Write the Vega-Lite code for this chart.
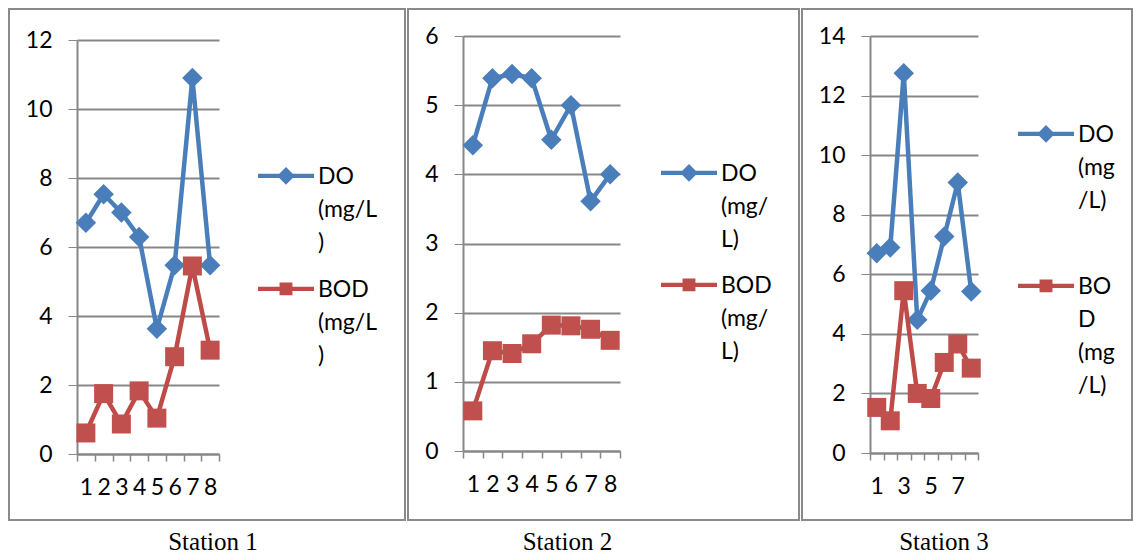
{
  "$schema": "https://vega.github.io/schema/vega-lite/v6.json",
  "padding": {"left": 8, "top": 8, "right": 0, "bottom": 0},
  "spacing": 1,
  "datasets": {
    "st1": [
      {"i": 1, "series": "DO (mg/L)", "v": 6.7}, {"i": 2, "series": "DO (mg/L)", "v": 7.53}, {"i": 3, "series": "DO (mg/L)", "v": 7.0}, {"i": 4, "series": "DO (mg/L)", "v": 6.29},
      {"i": 5, "series": "DO (mg/L)", "v": 3.63}, {"i": 6, "series": "DO (mg/L)", "v": 5.47}, {"i": 7, "series": "DO (mg/L)", "v": 10.9}, {"i": 8, "series": "DO (mg/L)", "v": 5.47},
      {"i": 1, "series": "BOD (mg/L)", "v": 0.61}, {"i": 2, "series": "BOD (mg/L)", "v": 1.75}, {"i": 3, "series": "BOD (mg/L)", "v": 0.87}, {"i": 4, "series": "BOD (mg/L)", "v": 1.83},
      {"i": 5, "series": "BOD (mg/L)", "v": 1.04}, {"i": 6, "series": "BOD (mg/L)", "v": 2.82}, {"i": 7, "series": "BOD (mg/L)", "v": 5.45}, {"i": 8, "series": "BOD (mg/L)", "v": 3.01}
    ],
    "st2": [
      {"i": 1, "series": "DO (mg/L)", "v": 4.42}, {"i": 2, "series": "DO (mg/L)", "v": 5.39}, {"i": 3, "series": "DO (mg/L)", "v": 5.45}, {"i": 4, "series": "DO (mg/L)", "v": 5.39},
      {"i": 5, "series": "DO (mg/L)", "v": 4.5}, {"i": 6, "series": "DO (mg/L)", "v": 5.0}, {"i": 7, "series": "DO (mg/L)", "v": 3.61}, {"i": 8, "series": "DO (mg/L)", "v": 4.0},
      {"i": 1, "series": "BOD (mg/L)", "v": 0.58}, {"i": 2, "series": "BOD (mg/L)", "v": 1.45}, {"i": 3, "series": "BOD (mg/L)", "v": 1.41}, {"i": 4, "series": "BOD (mg/L)", "v": 1.55},
      {"i": 5, "series": "BOD (mg/L)", "v": 1.82}, {"i": 6, "series": "BOD (mg/L)", "v": 1.81}, {"i": 7, "series": "BOD (mg/L)", "v": 1.76}, {"i": 8, "series": "BOD (mg/L)", "v": 1.6}
    ],
    "st3": [
      {"i": 1, "series": "DO (mg/L)", "v": 6.71}, {"i": 2, "series": "DO (mg/L)", "v": 6.9}, {"i": 3, "series": "DO (mg/L)", "v": 12.75}, {"i": 4, "series": "DO (mg/L)", "v": 4.47},
      {"i": 5, "series": "DO (mg/L)", "v": 5.45}, {"i": 6, "series": "DO (mg/L)", "v": 7.27}, {"i": 7, "series": "DO (mg/L)", "v": 9.08}, {"i": 8, "series": "DO (mg/L)", "v": 5.42},
      {"i": 1, "series": "BOD (mg/L)", "v": 1.53}, {"i": 2, "series": "BOD (mg/L)", "v": 1.08}, {"i": 3, "series": "BOD (mg/L)", "v": 5.45}, {"i": 4, "series": "BOD (mg/L)", "v": 2.0},
      {"i": 5, "series": "BOD (mg/L)", "v": 1.83}, {"i": 6, "series": "BOD (mg/L)", "v": 3.04}, {"i": 7, "series": "BOD (mg/L)", "v": 3.66}, {"i": 8, "series": "BOD (mg/L)", "v": 2.85}
    ]
  },
  "resolve": {
    "scale": {"x": "independent", "y": "independent", "color": "independent", "shape": "independent"},
    "legend": {"color": "independent", "shape": "independent"}
  },
  "hconcat": [
    {
      "width": 396, "height": 511,
      "data": {"name": "st1"},
      "title": {"text": "Station 1", "orient": "bottom", "dx": 6},
      "encoding": {
        "x": {"field": "i", "type": "ordinal", "scale": {"range": [68, 210], "paddingInner": 0, "paddingOuter": 0},
              "axis": {"title": null, "orient": "bottom", "offset": -66, "labelAngle": 0, "tickBand": "extent", "tickSize": 7, "tickWidth": 1.5, "labelPadding": 15, "grid": false}},
        "y": {"field": "v", "type": "quantitative", "scale": {"domain": [0, 12], "range": [445, 31], "nice": false},
              "axis": {"title": null, "offset": -68, "values": [0, 2, 4, 6, 8, 10, 12], "tickSize": 9, "labelPadding": 16, "grid": true}}
      },
      "layer": [
        {"transform": [{"filter": "datum.series == 'DO (mg/L)'"}], "mark": {"type": "line", "color": "#4A7EBB", "strokeWidth": 4.5, "strokeJoin": "round", "strokeCap": "round"}},
        {"transform": [{"filter": "datum.series == 'DO (mg/L)'"}], "mark": {"type": "point", "shape": "diamond", "filled": true, "color": "#4A7EBB", "size": 420, "opacity": 1}},
        {"transform": [{"filter": "datum.series == 'BOD (mg/L)'"}], "mark": {"type": "line", "color": "#BE4B48", "strokeWidth": 4.5, "strokeJoin": "round", "strokeCap": "round"}},
        {"transform": [{"filter": "datum.series == 'BOD (mg/L)'"}], "mark": {"type": "point", "shape": "square", "filled": true, "color": "#C0504D", "size": 361, "opacity": 1}},
        {
          "transform": [{"filter": "datum.v < -999"}],
          "mark": {"type": "point", "filled": true, "opacity": 1},
          "encoding": {
            "x": {"field": "i", "type": "ordinal"},
            "y": {"field": "v", "type": "quantitative"},
            "color": {"field": "series", "type": "nominal", "scale": {"domain": ["DO (mg/L)", "BOD (mg/L)"], "range": ["#4A7EBB", "#BE4B48"]},
              "legend": {"orient": "none", "legendX": 249, "legendY": 147, "title": null, "symbolSize": 3136, "symbolStrokeWidth": 0, "labelFont": "Lato", "labelFontSize": 23, "labelColor": "#000", "labelOffset": 4, "labelBaseline": "alphabetic", "labelLimit": 300, "rowPadding": 14,
                "labelExpr": "datum.label == 'DO (mg/L)' ? ['DO', '(mg/L', ')'] : ['BOD', '(mg/L', ')']"}},
            "shape": {"field": "series", "type": "nominal", "scale": {"domain": ["DO (mg/L)", "BOD (mg/L)"], "range": ["M-1,-0.37L-0.24,-0.37L0,-0.61L0.24,-0.37L1,-0.37L1,-0.21L0.24,-0.21L0,0.03L-0.24,-0.21L-1,-0.21Z", "M-1,-0.37L-0.23,-0.37L-0.23,-0.52L0.23,-0.52L0.23,-0.37L1,-0.37L1,-0.21L0.23,-0.21L0.23,-0.06L-0.23,-0.06L-0.23,-0.21L-1,-0.21Z"]},
              "legend": {"orient": "none", "legendX": 249, "legendY": 147, "title": null, "symbolSize": 3136, "symbolStrokeWidth": 0, "labelFont": "Lato", "labelFontSize": 23, "labelColor": "#000", "labelOffset": 4, "labelBaseline": "alphabetic", "labelLimit": 300, "rowPadding": 14,
                "labelExpr": "datum.label == 'DO (mg/L)' ? ['DO', '(mg/L', ')'] : ['BOD', '(mg/L', ')']"}}
          }
        }
      ]
    },
    {
      "width": 391, "height": 511,
      "data": {"name": "st2"},
      "title": {"text": "Station 2", "orient": "bottom", "dx": -36},
      "encoding": {
        "x": {"field": "i", "type": "ordinal", "scale": {"range": [55, 212], "paddingInner": 0, "paddingOuter": 0},
              "axis": {"title": null, "orient": "bottom", "offset": -69, "labelAngle": 0, "tickBand": "extent", "tickSize": 7, "tickWidth": 1.5, "labelPadding": 15, "grid": false}},
        "y": {"field": "v", "type": "quantitative", "scale": {"domain": [0, 6], "range": [442, 27], "nice": false},
              "axis": {"title": null, "offset": -55, "values": [0, 1, 2, 3, 4, 5, 6], "tickSize": 9, "labelPadding": 16, "grid": true}}
      },
      "layer": [
        {"transform": [{"filter": "datum.series == 'DO (mg/L)'"}], "mark": {"type": "line", "color": "#4A7EBB", "strokeWidth": 4.5, "strokeJoin": "round", "strokeCap": "round"}},
        {"transform": [{"filter": "datum.series == 'DO (mg/L)'"}], "mark": {"type": "point", "shape": "diamond", "filled": true, "color": "#4A7EBB", "size": 420, "opacity": 1}},
        {"transform": [{"filter": "datum.series == 'BOD (mg/L)'"}], "mark": {"type": "line", "color": "#BE4B48", "strokeWidth": 4.5, "strokeJoin": "round", "strokeCap": "round"}},
        {"transform": [{"filter": "datum.series == 'BOD (mg/L)'"}], "mark": {"type": "point", "shape": "square", "filled": true, "color": "#C0504D", "size": 361, "opacity": 1}},
        {
          "transform": [{"filter": "datum.v < -999"}],
          "mark": {"type": "point", "filled": true, "opacity": 1},
          "encoding": {
            "x": {"field": "i", "type": "ordinal"},
            "y": {"field": "v", "type": "quantitative"},
            "color": {"field": "series", "type": "nominal", "scale": {"domain": ["DO (mg/L)", "BOD (mg/L)"], "range": ["#4A7EBB", "#BE4B48"]},
              "legend": {"orient": "none", "legendX": 253, "legendY": 144, "title": null, "symbolSize": 3136, "symbolStrokeWidth": 0, "labelFont": "Lato", "labelFontSize": 23, "labelColor": "#000", "labelOffset": 4, "labelBaseline": "alphabetic", "labelLimit": 300, "rowPadding": 13,
                "labelExpr": "datum.label == 'DO (mg/L)' ? ['DO', '(mg/', 'L)'] : ['BOD', '(mg/', 'L)']"}},
            "shape": {"field": "series", "type": "nominal", "scale": {"domain": ["DO (mg/L)", "BOD (mg/L)"], "range": ["M-1,-0.37L-0.24,-0.37L0,-0.61L0.24,-0.37L1,-0.37L1,-0.21L0.24,-0.21L0,0.03L-0.24,-0.21L-1,-0.21Z", "M-1,-0.37L-0.23,-0.37L-0.23,-0.52L0.23,-0.52L0.23,-0.37L1,-0.37L1,-0.21L0.23,-0.21L0.23,-0.06L-0.23,-0.06L-0.23,-0.21L-1,-0.21Z"]},
              "legend": {"orient": "none", "legendX": 253, "legendY": 144, "title": null, "symbolSize": 3136, "symbolStrokeWidth": 0, "labelFont": "Lato", "labelFontSize": 23, "labelColor": "#000", "labelOffset": 4, "labelBaseline": "alphabetic", "labelLimit": 300, "rowPadding": 13,
                "labelExpr": "datum.label == 'DO (mg/L)' ? ['DO', '(mg/', 'L)'] : ['BOD', '(mg/', 'L)']"}}
          }
        }
      ]
    },
    {
      "width": 330, "height": 511,
      "data": {"name": "st3"},
      "title": {"text": "Station 3", "orient": "bottom", "dx": -23},
      "encoding": {
        "x": {"field": "i", "type": "ordinal", "scale": {"range": [68, 176], "paddingInner": 0, "paddingOuter": 0},
              "axis": {"title": null, "orient": "bottom", "offset": -67, "labelAngle": 0, "tickBand": "extent", "tickSize": 7, "tickWidth": 1.5, "labelPadding": 15, "grid": false, "labelOverlap": false,
                       "labelExpr": "datum.value % 2 == 1 ? datum.label : ''"}},
        "y": {"field": "v", "type": "quantitative", "scale": {"domain": [0, 14], "range": [444, 27], "nice": false},
              "axis": {"title": null, "offset": -68, "values": [0, 2, 4, 6, 8, 10, 12, 14], "tickSize": 9, "labelPadding": 16, "grid": true}}
      },
      "layer": [
        {"transform": [{"filter": "datum.series == 'DO (mg/L)'"}], "mark": {"type": "line", "color": "#4A7EBB", "strokeWidth": 4.5, "strokeJoin": "round", "strokeCap": "round"}},
        {"transform": [{"filter": "datum.series == 'DO (mg/L)'"}], "mark": {"type": "point", "shape": "diamond", "filled": true, "color": "#4A7EBB", "size": 420, "opacity": 1}},
        {"transform": [{"filter": "datum.series == 'BOD (mg/L)'"}], "mark": {"type": "line", "color": "#BE4B48", "strokeWidth": 4.5, "strokeJoin": "round", "strokeCap": "round"}},
        {"transform": [{"filter": "datum.series == 'BOD (mg/L)'"}], "mark": {"type": "point", "shape": "square", "filled": true, "color": "#C0504D", "size": 361, "opacity": 1}},
        {
          "transform": [{"filter": "datum.v < -999"}],
          "mark": {"type": "point", "filled": true, "opacity": 1},
          "encoding": {
            "x": {"field": "i", "type": "ordinal"},
            "y": {"field": "v", "type": "quantitative"},
            "color": {"field": "series", "type": "nominal", "scale": {"domain": ["DO (mg/L)", "BOD (mg/L)"], "range": ["#4A7EBB", "#BE4B48"]},
              "legend": {"orient": "none", "legendX": 216, "legendY": 105, "title": null, "symbolSize": 3136, "symbolStrokeWidth": 0, "labelFont": "Lato", "labelFontSize": 23, "labelColor": "#000", "labelOffset": 4, "labelBaseline": "alphabetic", "labelLimit": 300, "rowPadding": 53,
                "labelExpr": "datum.label == 'DO (mg/L)' ? ['DO', '(mg', '/L)'] : ['BO', 'D', '(mg', '/L)']"}},
            "shape": {"field": "series", "type": "nominal", "scale": {"domain": ["DO (mg/L)", "BOD (mg/L)"], "range": ["M-1,-0.37L-0.24,-0.37L0,-0.61L0.24,-0.37L1,-0.37L1,-0.21L0.24,-0.21L0,0.03L-0.24,-0.21L-1,-0.21Z", "M-1,-0.37L-0.23,-0.37L-0.23,-0.52L0.23,-0.52L0.23,-0.37L1,-0.37L1,-0.21L0.23,-0.21L0.23,-0.06L-0.23,-0.06L-0.23,-0.21L-1,-0.21Z"]},
              "legend": {"orient": "none", "legendX": 216, "legendY": 105, "title": null, "symbolSize": 3136, "symbolStrokeWidth": 0, "labelFont": "Lato", "labelFontSize": 23, "labelColor": "#000", "labelOffset": 4, "labelBaseline": "alphabetic", "labelLimit": 300, "rowPadding": 53,
                "labelExpr": "datum.label == 'DO (mg/L)' ? ['DO', '(mg', '/L)'] : ['BO', 'D', '(mg', '/L)']"}}
          }
        }
      ]
    }
  ],
  "config": {
    "view": {"stroke": "#8a8a8a", "strokeWidth": 2},
    "style": {"guide-label": {"lineHeight": 33}},
    "axis": {"domainColor": "#878787", "domainWidth": 2, "tickColor": "#878787", "gridColor": "#878787", "gridWidth": 2, "gridOpacity": 1,
             "labelFont": "Lato", "labelFontSize": 23, "labelColor": "#000"},
    "title": {"font": "Liberation Serif", "fontSize": 25, "fontWeight": "normal", "color": "#000", "offset": 10}
  }
}
